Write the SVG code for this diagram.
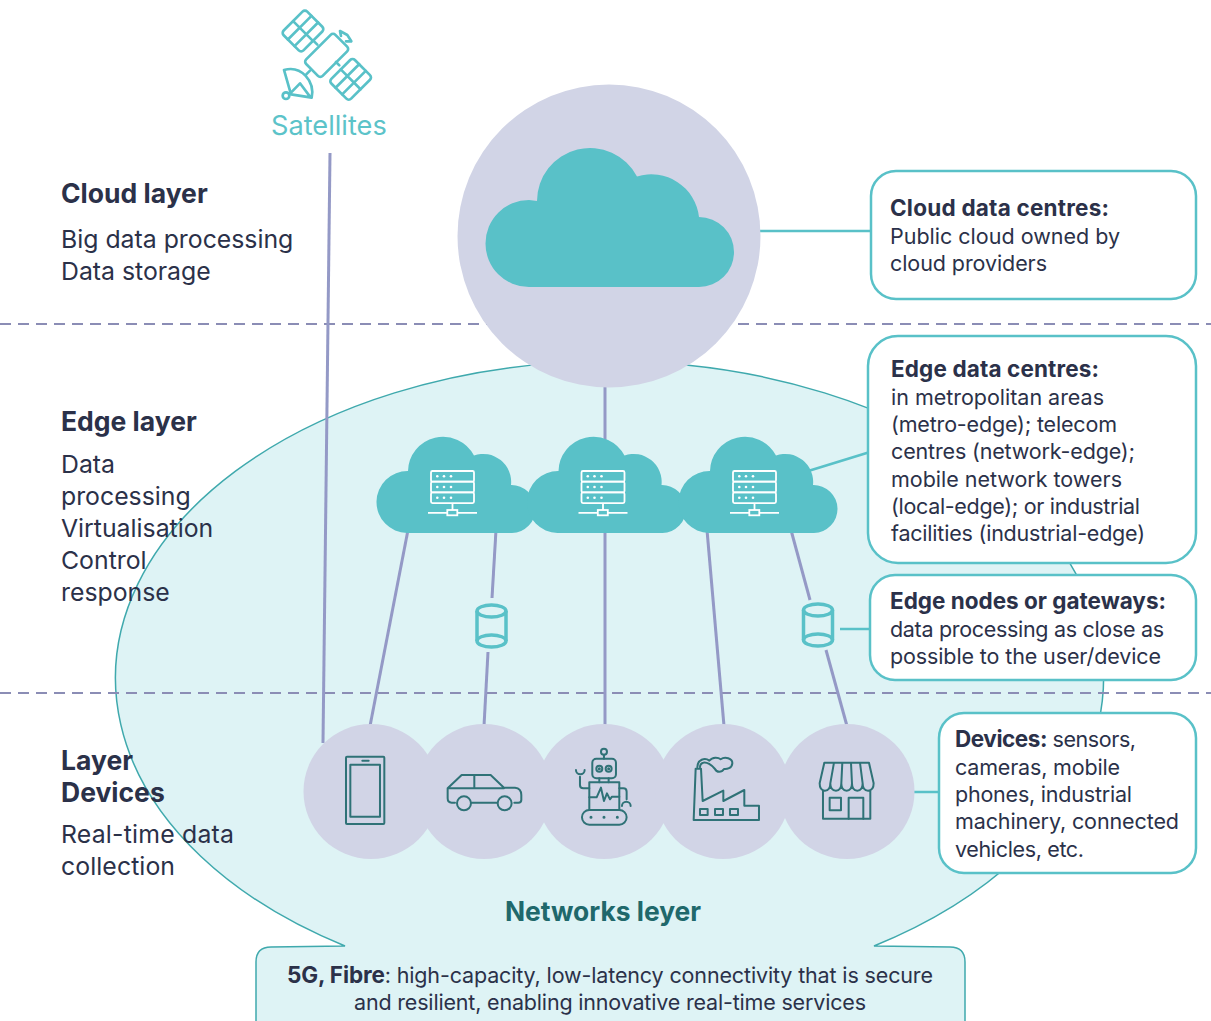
<svg xmlns="http://www.w3.org/2000/svg" width="1211" height="1021" viewBox="0 0 1211 1021">
<style>
text{font-family:"Inter","Liberation Sans",sans-serif;fill:#2b3149;font-size:21.500px}
.b{font-weight:700;font-size:22.500px}
.h{font-size:26.500px;font-weight:700}
.l{font-size:24.800px}
.dash{stroke:#8b8db5;stroke-width:2;stroke-dasharray:11 7;fill:none}
.conn{stroke:#9499c6;stroke-width:3;fill:none}
.tl{stroke:#59c1c8;stroke-width:2.5;fill:none}
.box{fill:#fff;stroke:#59c1c8;stroke-width:2.5}
.disc{fill:#d1d4e6}
.icon{fill:none;stroke:#2f7277;stroke-width:6;stroke-linejoin:round;stroke-linecap:round}
.sv{fill:none;stroke:#fff;stroke-width:1.8}
.cyl{fill:none;stroke:#59c1c8;stroke-width:3.5}
.sat{fill:none;stroke:#59c1c8;stroke-width:8;stroke-linejoin:round;stroke-linecap:round}
</style>
<defs>
<g id="edgecloud">
<path fill="#59c1c8" d="M407 533A31 31 0 0 1 408 471A35 35 0 0 1 474 455.500A28 28 0 0 1 511 485A24 24 0 0 1 512 533Z"/>
<g class="sv"><rect x="431" y="471" width="43" height="10.700" rx="1.500"/><rect x="431" y="481.700" width="43" height="10.700" rx="1.500"/><rect x="431" y="492.400" width="43" height="10.700" rx="1.500"/><path d="M452.500 503V510M428 512.800H447.300M457.300 512.800H477"/><rect x="447.300" y="510" width="10" height="5.300"/></g>
<g fill="#fff"><circle cx="437.300" cy="476.300" r="1.300"/><circle cx="444" cy="476.300" r="1.300"/><circle cx="451" cy="476.300" r="1.300"/><circle cx="437.300" cy="487" r="1.300"/><circle cx="444" cy="487" r="1.300"/><circle cx="451" cy="487" r="1.300"/><circle cx="437.300" cy="497.700" r="1.300"/><circle cx="444" cy="497.700" r="1.300"/><circle cx="451" cy="497.700" r="1.300"/></g>
</g>
<g id="cylinder" class="cyl"><ellipse cx="0" cy="-15" rx="14.500" ry="6"/><ellipse cx="0" cy="15" rx="14.500" ry="6"/><path d="M-14.500 -15V15M14.500 -15V15"/></g>
</defs>

<path id="networks-area" fill="#def3f5" stroke="#3fa9ad" stroke-width="1.500" d="M345 946A494 317 0 1 1 874 946L950 947Q965 947 965 962V1024H256V962Q256 947 271 947Z"/>
<g id="layer-dividers"><path class="dash" d="M0 324H1211"/><path class="dash" d="M0 693H1211"/></g>

<g id="connectors">
<path class="conn" d="M330 153L323 743"/>
<path class="conn" d="M605 380V440"/>
<path class="conn" d="M408 530L370 726"/>
<path class="conn" d="M496 530L492 598"/>
<path class="conn" d="M488 652L484 726"/>
<path class="conn" d="M605 530V726"/>
<path class="conn" d="M707 530L724 726"/>
<path class="conn" d="M791 530L810 600"/>
<path class="conn" d="M826 650L847 726"/>
<path class="tl" d="M755 231H872"/>
<path class="tl" d="M805 472L870 452"/>
<path class="tl" d="M840 629H872"/>
<path class="tl" d="M910 792H940"/>
</g>

<g id="satellites">
<g transform="translate(260 0) scale(.3333)" class="sat">
<g transform="rotate(45 129 93)"><rect x="87" y="43" width="84" height="100" rx="10"/><path d="M87 93H171M115 43V143M143 43V143"/></g>
<g transform="rotate(45 200 166)"><rect x="165" y="104" width="70" height="124" rx="10"/></g>
<g transform="rotate(45 272 238)"><rect x="230" y="188" width="84" height="100" rx="10"/><path d="M230 238H314M258 188V288M286 188V288"/></g>
<path d="M160 122L172 134M238 196L228 186M243 108L240 93L262 105L274 124L258 124"/>
<path d="M138 224L150 212M72 210C125 195 165 245 155 293L93 283L72 210ZM93 278L120 250L150 290"/>
<circle cx="78" cy="287" r="10"/>
</g>
<text x="271" y="135" style="fill:#5cc3c9;font-size:27.200px">Satellites</text>
</g>

<g id="cloud-node">
<circle cx="609" cy="236" r="151.500" class="disc"/>
<path fill="#59c1c8" d="M529 287A43.500 43.500 0 0 1 529 200L537 201A53 53 0 0 1 637 176.500A48 48 0 0 1 699 217A35 35 0 0 1 699 287Z"/>
</g>

<g id="edge-cloud-1"><use href="#edgecloud"/></g>
<g id="edge-cloud-2"><use href="#edgecloud" x="150.500"/></g>
<g id="edge-cloud-3"><use href="#edgecloud" x="302"/></g>
<g id="edge-node-1"><use href="#cylinder" x="491.500" y="626"/></g>
<g id="edge-node-2"><use href="#cylinder" x="818" y="625"/></g>

<g id="device-phone"><circle cx="371" cy="791.500" r="67.500" class="disc"/>
<g transform="translate(300 720) scale(.3333)" class="icon"><rect x="138" y="110" width="115" height="202" rx="3"/><rect x="151" y="134" width="89" height="156"/><path d="M187 122H206"/></g></g>
<g id="device-car"><circle cx="484" cy="791.500" r="67.500" class="disc"/>
<g transform="translate(300 720) scale(.3333)" class="icon"><path d="M465 248H455Q443 248 443 235V205L485 165H572L612 203H645Q664 205 664 225V240Q664 248 655 248H643M515 248H592M443 205H612M523 165V205"/><circle cx="492" cy="250" r="21"/><circle cx="614" cy="250" r="21"/></g></g>
<g id="device-robot"><circle cx="604" cy="791.500" r="67.500" class="disc"/>
<g transform="translate(300 720) scale(.3333)" class="icon"><circle cx="912" cy="95" r="9"/><path d="M912 104V116M898 175V187M926 175V187"/><rect x="877" y="116" width="71" height="59" rx="12"/><circle cx="898" cy="146" r="9"/><circle cx="926" cy="146" r="9"/><rect x="868" y="187" width="90" height="83"/><path d="M868 232H890L903 203L912 243L921 220L930 238L936 230H958M868 205H850Q840 205 840 195V170M828 150A13 13 0 0 0 854 150M958 205H970Q980 205 980 215V238M966 258A13 13 0 0 1 992 258"/><rect x="846" y="270" width="134" height="44" rx="22"/><path d="M873 292h.1M912 292h.1M952 292h.1M898 146h.1M926 146h.1" stroke-width="9"/></g></g>
<g id="device-factory"><circle cx="723" cy="791.500" r="67.500" class="disc"/>
<g transform="translate(650 720) scale(.3333)" class="icon"><path d="M131 300L137 146H153L158 243L220 212V243L283 210V257H327V300Z"/><rect x="150" y="267" width="23" height="18"/><rect x="195" y="267" width="24" height="18"/><rect x="240" y="267" width="24" height="18"/><path d="M142 142C142 118 165 112 178 122C188 110 205 112 212 118C225 108 248 115 247 130C246 145 230 148 222 147C215 158 200 158 195 147C185 135 170 125 160 128C152 130 150 138 150 142"/></g></g>
<g id="device-shop"><circle cx="847" cy="791.500" r="67.500" class="disc"/>
<g transform="translate(650 720) scale(.3333)" class="icon"><path d="M523 128H657L671 190Q671 212 654 212Q638 212 638 190Q638 212 622 212Q606 212 606 190Q606 212 590 212Q574 212 574 190Q574 212 558 212Q541 212 541 190Q541 212 525 212Q509 212 509 190ZM541 190L552 128M574 190L577 128M606 190L603 128M638 190L630 128M519 212V296H661V212"/><rect x="539" y="233" width="34" height="38"/><path d="M596 296V233H640V296"/></g></g>

<g id="label-cloud-layer"><text x="61" y="203" class="h">Cloud layer</text><text x="61" y="248" class="l">Big data processing</text><text x="61" y="280" class="l">Data storage</text></g>
<g id="label-edge-layer"><text x="61" y="431" class="h">Edge layer</text><text x="61" y="473" class="l">Data</text><text x="61" y="505" class="l">processing</text><text x="61" y="537" class="l">Virtualisation</text><text x="61" y="569" class="l">Control</text><text x="61" y="601" class="l">response</text></g>
<g id="label-devices-layer"><text x="61" y="770" class="h">Layer</text><text x="61" y="802" class="h">Devices</text><text x="61" y="843" class="l" textLength="173">Real-time data</text><text x="61" y="875" class="l" textLength="114">collection</text></g>

<g id="box-cloud"><rect x="871" y="171" width="325" height="128" rx="25" class="box"/><text x="890" y="216" class="b" textLength="219">Cloud data centres:</text><text x="890" y="244" textLength="230">Public cloud owned by</text><text x="890" y="271" textLength="157">cloud providers</text></g>
<g id="box-edge"><rect x="868" y="336" width="328" height="227" rx="30" class="box"/><text x="891" y="377" class="b" textLength="208">Edge data centres:</text><text x="891" y="405" textLength="213">in metropolitan areas</text><text x="891" y="432" textLength="226">(metro-edge); telecom</text><text x="891" y="459" textLength="244">centres (network-edge);</text><text x="891" y="487" textLength="231">mobile network towers</text><text x="891" y="514" textLength="249">(local-edge); or industrial</text><text x="891" y="541" textLength="254">facilities (industrial-edge)</text></g>
<g id="box-gateway"><rect x="870" y="575" width="326" height="105" rx="25" class="box"/><text x="890" y="609" class="b" textLength="276">Edge nodes or gateways:</text><text x="890" y="637" textLength="274">data processing as close as</text><text x="890" y="664" textLength="271">possible to the user/device</text></g>
<g id="box-devices"><rect x="939" y="713" width="257" height="160" rx="25" class="box"/><text x="955" y="747" textLength="181"><tspan class="b">Devices:</tspan> sensors,</text><text x="955" y="775" textLength="165">cameras, mobile</text><text x="955" y="802" textLength="177">phones, industrial</text><text x="955" y="829" textLength="224">machinery, connected</text><text x="955" y="857" textLength="129">vehicles, etc.</text></g>

<g id="networks-label"><text x="603" y="921" text-anchor="middle" style="fill:#20686b;font-size:26.400px;font-weight:700">Networks leyer</text><text x="610" y="983" text-anchor="middle" textLength="646"><tspan class="b">5G, Fibre</tspan>: high-capacity, low-latency connectivity that is secure</text><text x="610" y="1010" text-anchor="middle" textLength="512">and resilient, enabling innovative real-time services</text></g>
</svg>
